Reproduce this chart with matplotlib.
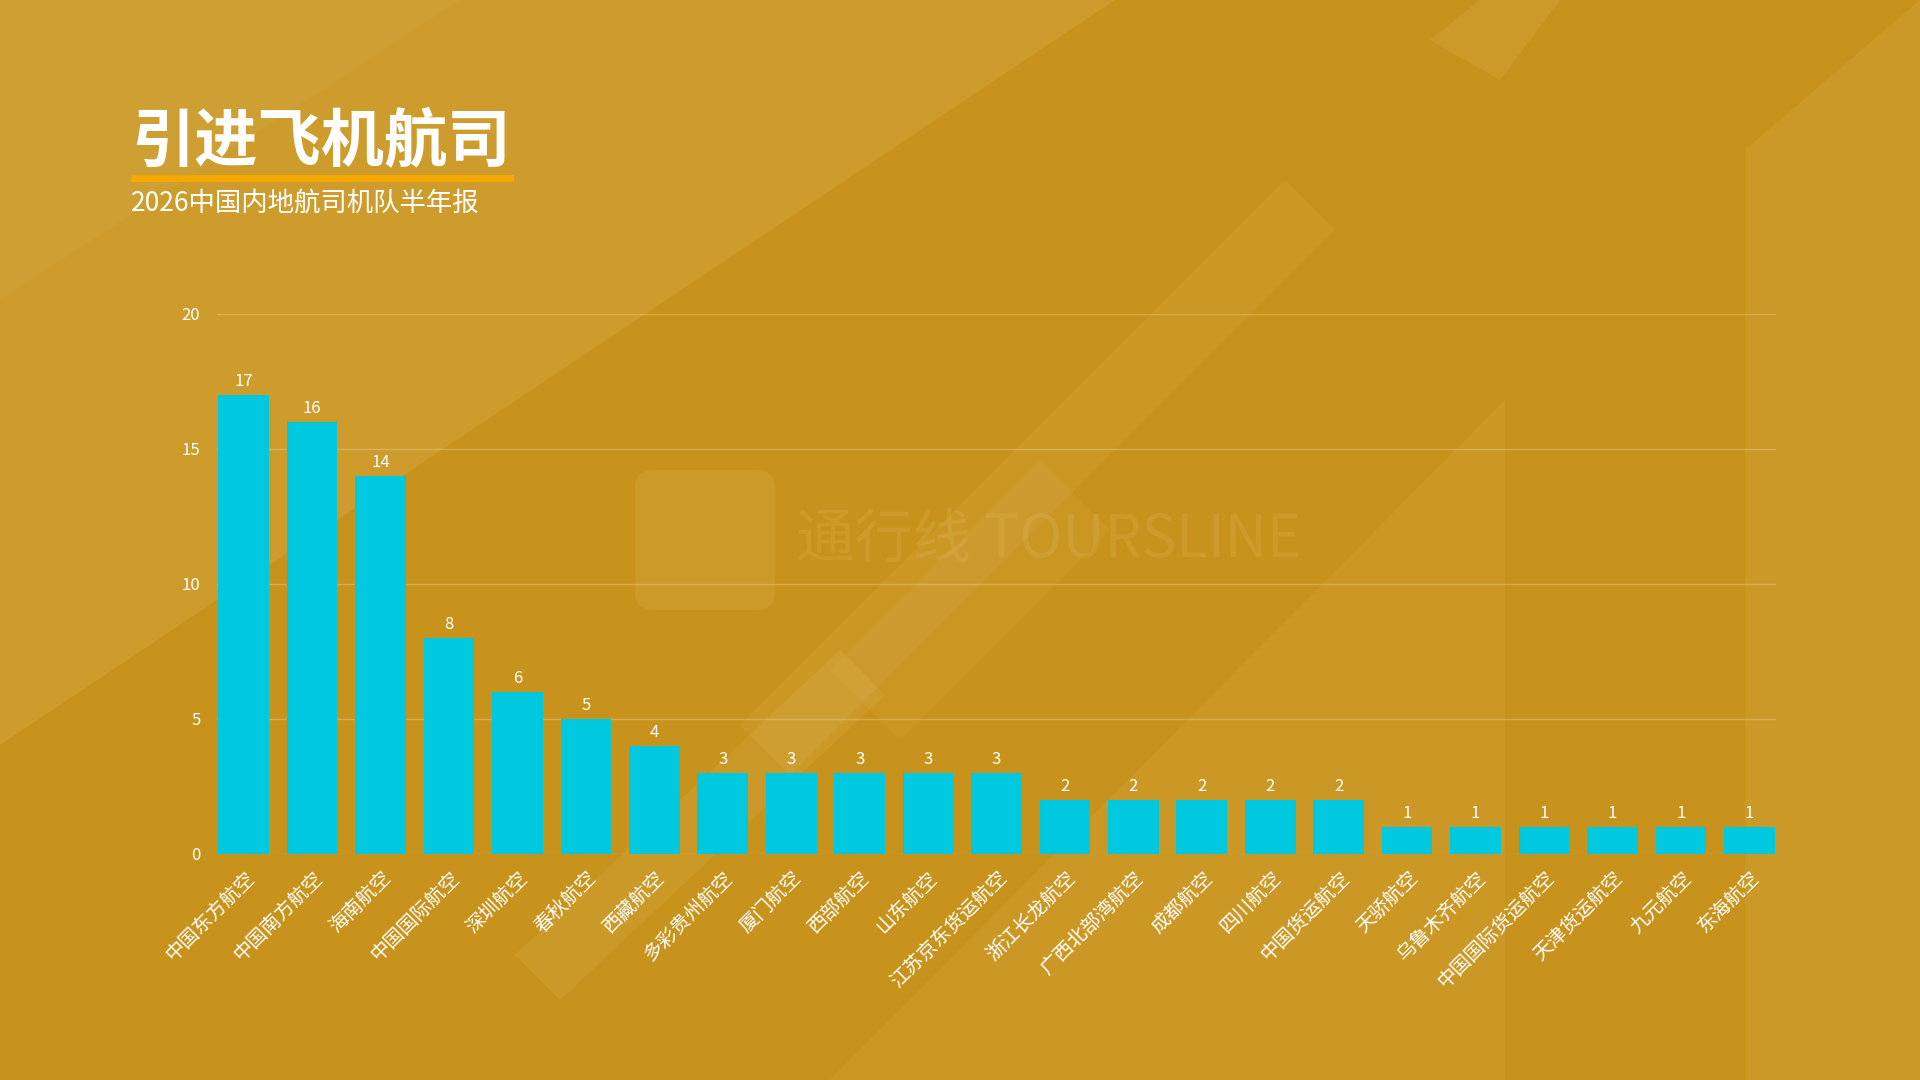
import matplotlib
matplotlib.use("Agg")
import matplotlib.pyplot as plt
from matplotlib.patches import Polygon, Rectangle, FancyBboxPatch

plt.rcParams['font.family'] = ['Noto Sans CJK SC', 'DejaVu Sans']

BG, LIGHT, BAR, INK, ORANGE = "#c8931c", "#f3dca0", "#00c8de", "#ffffff", "#f5a900"

airlines = ["中国东方航空", "中国南方航空", "海南航空", "中国国际航空", "深圳航空", "春秋航空",
            "西藏航空", "多彩贵州航空", "厦门航空", "西部航空", "山东航空", "江苏京东货运航空",
            "浙江长龙航空", "广西北部湾航空", "成都航空", "四川航空", "中国货运航空", "天骄航空",
            "乌鲁木齐航空", "中国国际货运航空", "天津货运航空", "九元航空", "东海航空"]
counts = [17, 16, 14, 8, 6, 5, 4, 3, 3, 3, 3, 3, 2, 2, 2, 2, 2, 1, 1, 1, 1, 1, 1]
yticks = [0, 5, 10, 15, 20]

fig = plt.figure(figsize=(19.2, 10.8), dpi=100, facecolor=BG)

# background decoration: pale diagonal bands (pixel coords, y down)
bg = fig.add_axes((0, 0, 1, 1), zorder=0)
bg.set_xlim(0, 1920)
bg.set_ylim(1080, 0)
bg.axis("off")
shapes = [
    ([(0, 0), (1115, 0), (0, 745)], 0.13),
    ([(0, 0), (460, 0), (0, 300)], 0.05),
    ([(1285, 180), (1335, 230), (790, 775), (740, 725)], 0.08),
    ([(1505, 400), (1505, 1080), (830, 1080)], 0.08),
    ([(840, 650), (885, 695), (560, 1000), (515, 955)], 0.09),
    ([(1745, 150), (1920, 0), (1920, 1080), (1745, 1080)], 0.09),
    ([(1430, 40), (1480, 0), (1560, 0), (1500, 80)], 0.10),
    ([(1040, 460), (1110, 530), (900, 740), (830, 670)], 0.06),
]
for pts, a in shapes:
    bg.add_patch(Polygon(pts, closed=True, facecolor=LIGHT, edgecolor="none", alpha=a))
bg.add_patch(FancyBboxPatch((635, 470), 140, 140, boxstyle="round,pad=0,rounding_size=18",
                            facecolor=LIGHT, edgecolor="none", alpha=0.10))
bg.text(796, 540, "通行线 TOURSLINE", fontsize=42, color=LIGHT, alpha=0.12,
        ha="left", va="center")

# title block
fig.text(131 / 1920, 1 - 111 / 1080, "引进飞机航司", fontsize=45.5, fontweight="bold",
         color=INK, ha="left", va="top")
bg.add_patch(Rectangle((131, 175), 383, 7, facecolor=ORANGE, edgecolor="none"))
fig.text(131 / 1920, 1 - 203 / 1080, "2026中国内地航司机队半年报", fontsize=19,
         color=INK, ha="left", va="center")

ax = fig.add_axes((217 / 1920, 226.5 / 1080, 1559 / 1920, 540 / 1080), zorder=1)
ax.set_facecolor("none")
x = range(len(airlines))
bars = ax.bar(x, counts, width=0.74, color=BAR, zorder=3)
for xi, v in zip(x, counts):
    ax.annotate(str(v), (xi, v), xytext=(0, 3), textcoords="offset points",
                ha="center", va="bottom", fontsize=12, color=INK)
ax.set_xlim(-0.39, len(airlines) - 0.61)
ax.set_ylim(0, 20)
ax.set_yticks(yticks)
ax.grid(axis="y", color=LIGHT, alpha=0.35, lw=1)
ax.set_axisbelow(True)
for sp in ax.spines.values():
    sp.set_visible(False)
ax.tick_params(length=0, colors=INK, labelsize=12)
ax.tick_params(axis="y", pad=12)
ax.set_xticks(list(x))
ax.set_xticklabels(airlines, rotation=45, ha="right", rotation_mode="anchor", fontsize=14)
ax.tick_params(axis="x", pad=10)

fig.savefig("out.png", dpi=100, facecolor=BG)
